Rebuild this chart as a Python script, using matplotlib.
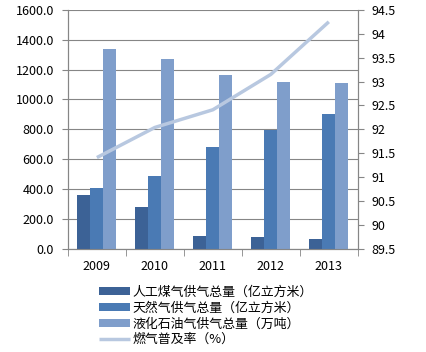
import numpy as np
import matplotlib
matplotlib.use("Agg")
from matplotlib import pyplot as plt
from matplotlib.ticker import FixedLocator, NullFormatter

plt.rcParams['font.family'] = ['Noto Sans CJK SC', 'DejaVu Sans']

years = ['2009', '2010', '2011', '2012', '2013']
coal_gas = [361.6, 279.9, 84.7, 77.0, 62.8]
natural_gas = [405.1, 487.6, 678.8, 795.0, 901.0]
lpg = [1340.0, 1268.0, 1165.8, 1114.8, 1109.7]
rate = [91.41, 92.04, 92.41, 93.15, 94.25]

labels = ['人工煤气供气总量（亿立方米）', '天然气供气总量（亿立方米）',
          '液化石油气供气总量（万吨）', '燃气普及率（%）']
colors = ['#3C6296', '#4A7AB4', '#7F9ECB', '#B8C8E0']
grid_c = '#868686'

fig = plt.figure(figsize=(4.27, 3.52), dpi=100)
ax = fig.add_axes([0.159, 0.293, 0.679, 0.679])
ax2 = ax.twinx()

x = np.arange(len(years))
w = 0.225
bars = []
for i, vals in enumerate([coal_gas, natural_gas, lpg]):
    b = ax.bar(x + (i - 1) * w, vals, w, color=colors[i], label=labels[i], zorder=3)
    bars.append(b)

ln, = ax2.plot(x, rate, color=colors[3], lw=2.5, label=labels[3], solid_capstyle='butt')

ax.set_xlim(-0.5, 4.5)
ax.set_ylim(0, 1600)
ax.set_yticks(np.arange(0, 1601, 200))
ax.set_yticklabels(['%.1f' % v for v in np.arange(0, 1601, 200)])
ax2.set_ylim(89.5, 94.5)
ax2.set_yticks(np.arange(89.5, 94.51, 0.5))
ax2.set_yticklabels(['%g' % v for v in np.arange(89.5, 94.51, 0.5)])

ax.set_xticks(x)
ax.set_xticklabels(years)
ax.xaxis.set_minor_locator(FixedLocator(np.arange(-0.5, 4.6, 1)))
ax.xaxis.set_minor_formatter(NullFormatter())
ax.tick_params(axis='x', which='major', length=0, pad=8, labelsize=9)
ax.tick_params(axis='x', which='minor', length=5, color=grid_c)
ax.tick_params(axis='y', length=4, color=grid_c, labelsize=9, pad=6)
ax2.tick_params(axis='y', length=4, color=grid_c, labelsize=9, pad=6)

ax.yaxis.grid(True, color=grid_c, lw=0.8, zorder=0)
ax.set_axisbelow(True)
for a in (ax, ax2):
    a.spines['top'].set_visible(False)
    for s in ('left', 'right', 'bottom'):
        a.spines[s].set_color(grid_c)

fig.legend(bars + [ln], labels, loc='upper left', bbox_to_anchor=(0.217, 0.207),
           frameon=False, fontsize=9.3, handlelength=2.4, handleheight=0.55,
           labelspacing=0.22, handletextpad=0.2, borderpad=0)

fig.savefig('out.png', dpi=100)
